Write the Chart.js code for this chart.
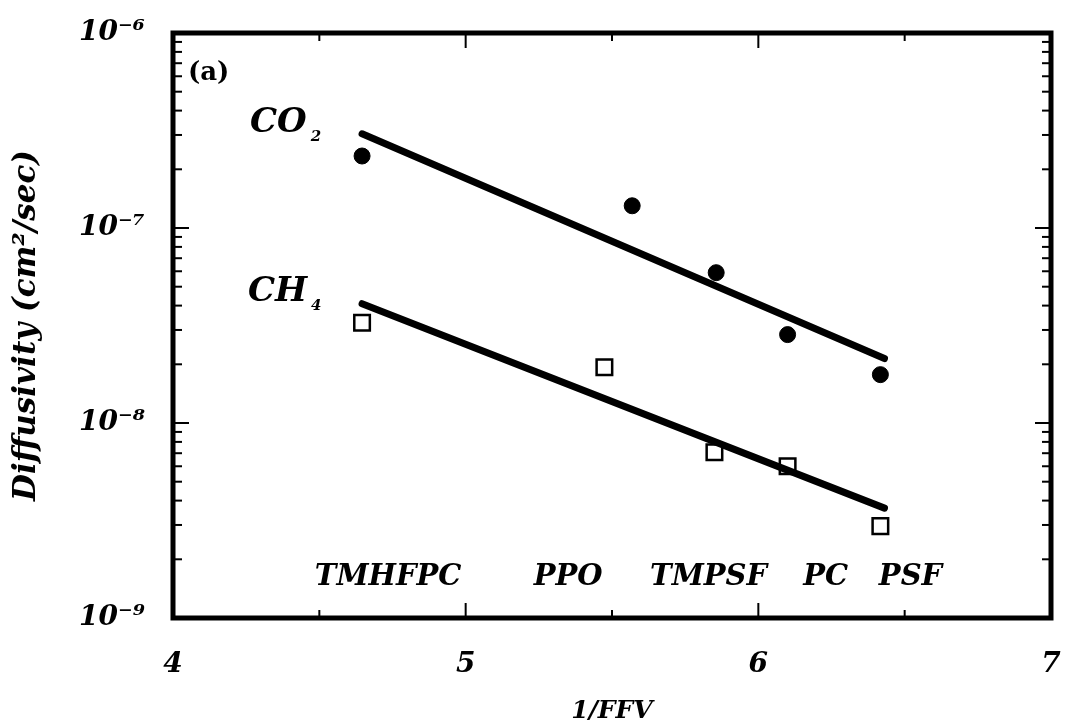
<!DOCTYPE html>
<html>
<head>
<meta charset="utf-8">
<script src="https://cdn.jsdelivr.net/npm/chart.js@4/dist/chart.umd.min.js"></script>
<style>
  html, body { margin: 0; padding: 0; background: #fff; }
  #wrap { width: 1066px; height: 726px; }
</style>
</head>
<body>
<div id="wrap"><canvas id="grafico"></canvas></div>
<script>
// measured points (1/FFV, diffusivity cm2/sec)
const co2X = [4.646, 5.569, 5.856, 6.10, 6.417];
const co2D = [2.34e-7, 1.30e-7, 5.9e-8, 2.84e-8, 1.77e-8];
const ch4X = [4.646, 5.474, 5.850, 6.10, 6.417];
const ch4D = [3.27e-8, 1.93e-8, 7.08e-9, 6.0e-9, 2.96e-9];

// fitted lines, two end points each
const co2FitX = [4.646, 6.431];
const co2FitD = [3.04e-7, 2.14e-8];
const ch4FitX = [4.646, 6.431];
const ch4FitD = [4.09e-8, 3.66e-9];

// polymer names along the bottom
const polimeros = ["TMHFPC", "PPO", "TMPSF", "PC", "PSF"];
const polimerosX = [4.735, 5.35, 5.83, 6.23, 6.52];
const polimerosD = 1.62e-9;

// axis ticks
const xMayores = [4, 5, 6, 7];
const xMenores = [4.5, 5.5, 6.5];
const yDecadas = [1e-9, 1e-8, 1e-7, 1e-6];
const yEtiquetas = ["10\u207B\u2079", "10\u207B\u2078", "10\u207B\u2077", "10\u207B\u2076"];

const serif = "'DejaVu Serif', 'Liberation Serif', serif";

function puntos(xs, ys) {
  return xs.map((x, i) => ({ x, y: ys[i] }));
}

// frame, inward ticks and text labels
const marco = {
  id: "marco",
  afterDatasetsDraw(chart) {
    const { ctx, chartArea: a, scales: { x, y } } = chart;
    ctx.save();
    ctx.strokeStyle = "#000";
    ctx.lineWidth = 2;

    const tick = (x1, y1, x2, y2) => {
      ctx.beginPath();
      ctx.moveTo(x1, y1);
      ctx.lineTo(x2, y2);
      ctx.stroke();
    };

    // y ticks on left and right
    for (let e = -9; e <= -7; e++) {
      for (let m = 1; m <= 9; m++) {
        const py = y.getPixelForValue(m * Math.pow(10, e));
        const len = m === 1 ? 16 : 9;
        tick(a.left, py, a.left + len, py);
        tick(a.right, py, a.right - len, py);
      }
    }
    // x ticks on bottom and top
    xMayores.concat(xMenores).forEach(v => {
      const px = x.getPixelForValue(v);
      const len = xMayores.includes(v) ? 15 : 8;
      tick(px, a.bottom, px, a.bottom - len);
      tick(px, a.top, px, a.top + len);
    });

    ctx.lineWidth = 5;
    ctx.strokeRect(a.left, a.top, a.right - a.left, a.bottom - a.top);

    ctx.fillStyle = "#000";
    ctx.textBaseline = "middle";

    // gas labels with subscript
    const gas = (txt, sub, vx, vy) => {
      const px = x.getPixelForValue(vx);
      const py = y.getPixelForValue(vy);
      ctx.font = "italic bold 34px " + serif;
      ctx.textAlign = "left";
      ctx.fillText(txt, px, py);
      const w = ctx.measureText(txt).width;
      ctx.font = "italic bold 15px " + serif;
      ctx.fillText(sub, px + w + 4, py + 14);
    };
    gas("CO", "2", 4.263, 3.46e-7);
    gas("CH", "4", 4.256, 4.67e-8);

    ctx.font = "bold 26px " + serif;
    ctx.textAlign = "left";
    ctx.fillText("(a)", x.getPixelForValue(4.051), y.getPixelForValue(6.24e-7));

    ctx.font = "italic bold 29px " + serif;
    ctx.textAlign = "center";
    polimeros.forEach((p, i) => {
      ctx.fillText(p, x.getPixelForValue(polimerosX[i]), y.getPixelForValue(polimerosD));
    });
    ctx.restore();
  }
};

const ctx = document.getElementById("grafico").getContext("2d");
const chart = new Chart(ctx, {
  type: "scatter",
  data: {
    datasets: [
      {
        type: "line",
        data: puntos(co2FitX, co2FitD),
        borderColor: "#000",
        borderWidth: 7,
        borderCapStyle: "round",
        pointRadius: 0,
        fill: false
      },
      {
        type: "line",
        data: puntos(ch4FitX, ch4FitD),
        borderColor: "#000",
        borderWidth: 7,
        borderCapStyle: "round",
        pointRadius: 0,
        fill: false
      },
      {
        label: "CO2",
        data: puntos(co2X, co2D),
        pointStyle: "circle",
        pointRadius: 8,
        backgroundColor: "#000",
        borderColor: "#000"
      },
      {
        label: "CH4",
        data: puntos(ch4X, ch4D),
        pointStyle: "rect",
        pointRadius: 11,
        backgroundColor: "#fff",
        borderColor: "#000",
        borderWidth: 2.5
      }
    ]
  },
  options: {
    responsive: true,
    maintainAspectRatio: false,
    animation: false,
    layout: { padding: { top: 33, right: 15, left: 0, bottom: 0 } },
    plugins: {
      legend: { display: false },
      tooltip: { enabled: false }
    },
    scales: {
      x: {
        type: "linear",
        min: 4,
        max: 7,
        afterBuildTicks: s => { s.ticks = xMayores.map(v => ({ value: v })); },
        afterFit: s => {
          s.height = 108;
          s.paddingLeft = 0;
          s.paddingRight = 0;
        },
        grid: { display: false, drawTicks: false },
        border: { display: false },
        ticks: {
          color: "#000",
          padding: 30,
          font: { family: serif, size: 28, style: "italic", weight: "bold" }
        },
        title: {
          display: true,
          text: "1/FFV",
          color: "#000",
          padding: { top: 0, bottom: 0 },
          font: { family: serif, size: 25, style: "italic", weight: "bold" }
        }
      },
      y: {
        type: "logarithmic",
        min: 1e-9,
        max: 1e-6,
        afterBuildTicks: s => { s.ticks = yDecadas.map(v => ({ value: v })); },
        afterFit: s => {
          s.width = 173;
          s.paddingTop = 0;
          s.paddingBottom = 0;
        },
        grid: { display: false, drawTicks: false },
        border: { display: false },
        ticks: {
          color: "#000",
          padding: 28,
          font: { family: serif, size: 28, style: "italic", weight: "bold" },
          callback: (v) => yEtiquetas[yDecadas.findIndex(d => Math.abs(d - v) / d < 1e-6)]
        },
        title: {
          display: true,
          text: "Diffusivity (cm\u00B2/sec)",
          color: "#000",
          padding: { top: 8, bottom: 0 },
          font: { family: serif, size: 31, style: "italic", weight: "bold" }
        }
      }
    }
  },
  plugins: [marco]
});
</script>
</body>
</html>
